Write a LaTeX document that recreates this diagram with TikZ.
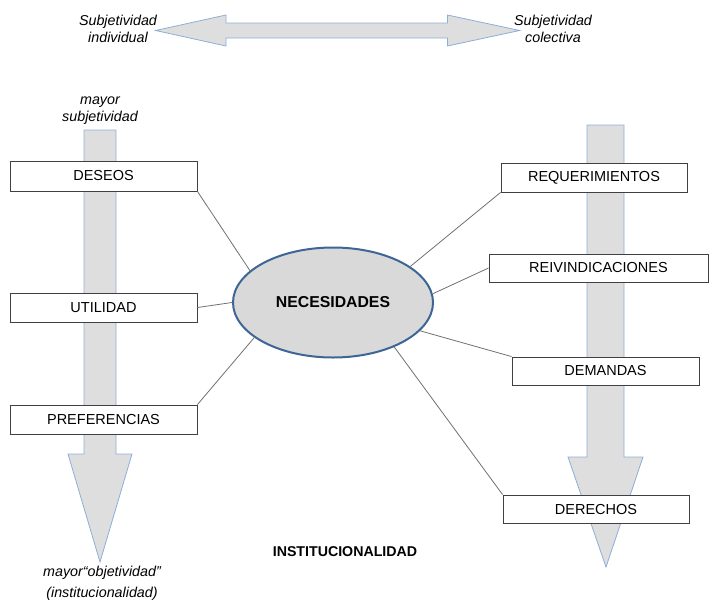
\documentclass[tikz,border=0pt]{standalone}
\usepackage{fontspec}
\setmainfont{Liberation Sans}
\usetikzlibrary{shapes.geometric}
\definecolor{arrowfill}{HTML}{DEDEDE}
\definecolor{arrowline}{HTML}{8EAEDA}
\definecolor{ellline}{HTML}{3D6596}
\definecolor{ellfill}{HTML}{D9D9D9}
\definecolor{boxline}{HTML}{404040}
\definecolor{conncol}{HTML}{707070}
\begin{document}
\begin{tikzpicture}[x=1pt,y=-1pt,
  bigarrow/.style={fill=arrowfill,draw=arrowline,line width=0.8pt,line join=miter},
  boxlabel/.style={font=\fontsize{14.5}{16}\selectfont,draw=boxline,fill=white,line width=0.9pt,minimum height=29pt,inner sep=0pt},
  itlabel/.style={font=\itshape\fontsize{14.3}{17}\selectfont,align=center,inner sep=0pt},
  connline/.style={draw=conncol,line width=0.8pt}]
\useasboundingbox (0,0) rectangle (709,600);
% top double arrow
\draw[bigarrow] (155.6,30.5) -- (226,15) -- (226,23) -- (447.5,23) -- (447.5,15) -- (519.6,30.5)
  -- (447.5,46) -- (447.5,38) -- (226,38) -- (226,46) -- cycle;
\node[itlabel] (subind) at (118,29) {Subjetividad\\individual};
\node[itlabel] (subcol) at (553,29) {Subjetividad\\colectiva};
% left vertical arrow
\draw[bigarrow] (84,130) -- (116,130) -- (116,454) -- (132,454) -- (100,562) -- (68,454) -- (84,454) -- cycle;
% right vertical arrow
\draw[bigarrow] (587,125) -- (624,125) -- (624,457) -- (643,457) -- (606,567) -- (568,457) -- (587,457) -- cycle;
\node[itlabel] (maysub) at (100,111) {mayor\\subjetividad};
\node[itlabel,font=\itshape\fontsize{14.3}{21}\selectfont] (mayobj) at (102,583) {mayor“objetividad”\\(institucionalidad)};
\node[font=\bfseries\fontsize{14.2}{16}\selectfont,inner sep=0pt] (inst) at (345,552) {INSTITUCIONALIDAD};
% boxes
\node[boxlabel,minimum width=187pt,minimum height=30pt] (deseos) at (103.5,176) {DESEOS};
\node[boxlabel,minimum width=187pt] (utilidad) at (103.5,307.5) {UTILIDAD};
\node[boxlabel,minimum width=187pt] (pref) at (103.5,419.5) {PREFERENCIAS};
\node[boxlabel,minimum width=186pt] (req) at (594,177.5) {REQUERIMIENTOS};
\node[boxlabel,minimum width=219pt,minimum height=28pt] (reiv) at (598.5,268) {REIVINDICACIONES};
\node[boxlabel,minimum width=187pt,minimum height=28pt] (dem) at (605.5,371) {DEMANDAS};
\node[boxlabel,minimum width=186pt,minimum height=28pt] (der) at (596,509) {DERECHOS};
% ellipse
\node[ellipse,draw=ellline,fill=ellfill,line width=2pt,minimum width=200pt,minimum height=110pt,inner sep=0pt,
  font=\bfseries\fontsize{15.8}{18}\selectfont] (nec) at (333,302.5) {NECESIDADES};
% connectors
\draw[connline] (deseos.south east) -- (nec.159);
\draw[connline] (utilidad.east) -- (nec.180);
\draw[connline] (pref.north east) -- (nec.204);
\draw[connline] (req.south west) -- (nec.25);
\draw[connline] (reiv.west) -- (nec.5);
\draw[connline] (dem.north west) -- (nec.342);
\draw[connline] (der.north west) -- (nec.324);
\end{tikzpicture}
\end{document}
